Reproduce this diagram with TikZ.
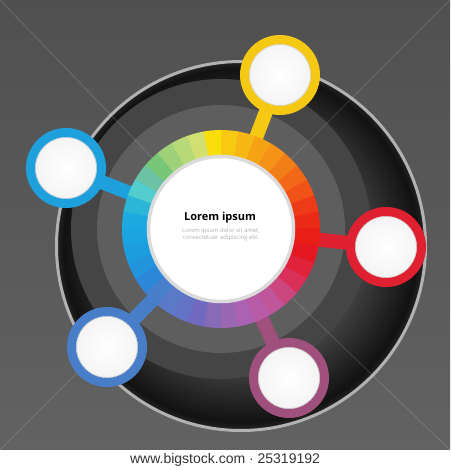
\documentclass[tikz,border=0pt]{standalone}
\usepackage{fontspec}
\setmainfont{Open Sans}
\newfontfamily\creditfont{Liberation Sans}
\definecolor{ringyellow}{RGB}{245,200,20}
\definecolor{ringcyan}{RGB}{30,160,220}
\definecolor{ringred}{RGB}{222,32,48}
\definecolor{ringblue}{RGB}{72,126,200}
\definecolor{ringpurple}{RGB}{160,80,125}
\definecolor{bgtop}{RGB}{80,80,80}
\definecolor{bgbottom}{RGB}{98,98,98}
\tikzset{
  bubble/.style={circle, draw=#1, line width=9pt, minimum size=71pt, inner sep=0pt,
    inner color=white, outer color=gray!10,
    path picture={\draw[gray!35, line width=0.8pt] (path picture bounding box.center) circle (30.5pt);}},
  spoke/.style={draw=#1, line width=14pt},
  glare/.style={white, opacity=0.13, line width=1pt},
}
\begin{document}
\begin{tikzpicture}[x=1pt,y=-1pt]
  \useasboundingbox (0,0) rectangle (450,470);
  % backdrop
  \shade[top color=bgtop, bottom color=bgbottom] (0,0) rectangle (450,450);
  \fill[white] (0,450) rectangle (450,470);

  \coordinate (c) at (221,229);
  \coordinate (y) at (280,75);
  \coordinate (b) at (66,168);
  \coordinate (r) at (386,247);
  \coordinate (d) at (107,347);
  \coordinate (p) at (289,378);

  % dark disc, in bands
  \foreach \r in {184,182,...,110}{
    \pgfmathsetmacro\g{(\r>178) ? 0.07+(\r-178)/6*0.06 : 0.07+(178-\r)/60*0.2}
    \pgfmathsetmacro\k{100*(1-\g)}
    \fill[black!\k!white] (241,246) circle (\r);
  }
  \fill[black!73!white] (c) circle (150);
  \fill[black!63!white] (c) circle (124);
  \draw[line width=3pt, gray!60] (241,246) circle (184.5);
  \draw[glare] (0,0) -- (c) -- (450,0);
  \draw[glare] (0,450) -- (c) -- (450,450);

  \draw[spoke=ringyellow] (c) -- (y);
  \draw[spoke=ringcyan] (c) -- (b);
  \draw[spoke=ringred] (c) -- (r);
  \draw[spoke=ringblue] (c) -- (d);
  \draw[spoke=ringpurple] (c) -- (p);

  % colour wheel, angle/hue/sat/bright
  \foreach \a/\h/\s/\v in {0/5/.9/.92, 10/10/.9/.93, 20/16/.9/.94, 30/22/.9/.95, 40/28/.9/.95,
      50/33/.9/.96, 60/38/.92/.96, 70/43/.92/.97, 80/48/.93/.97, 90/53/.95/.98,
      100/68/.5/.88, 110/80/.45/.85, 120/95/.42/.82, 130/120/.4/.78, 140/160/.45/.76,
      150/180/.6/.8, 160/192/.8/.85, 170/197/.88/.88, 180/198/.88/.88, 190/200/.88/.87,
      200/203/.85/.86, 210/208/.8/.85, 220/215/.65/.8, 230/222/.55/.78, 240/230/.5/.78,
      250/245/.45/.75, 260/262/.42/.72, 270/280/.42/.7, 280/295/.45/.7, 290/310/.5/.72,
      300/322/.55/.75, 310/335/.65/.8, 320/345/.78/.85, 330/352/.85/.88, 340/357/.9/.9,
      350/2/.9/.91}{
    \definecolor{seg}{Hsb}{\h,\s,\v}
    \fill[seg] (c) -- ++(-\a:99) arc[start angle=-\a, end angle=-\a-10.5, radius=99] -- cycle;
  }

  \node[circle, fill=white, draw=gray!28, line width=3.5pt, minimum size=145pt, inner sep=0pt] (hub) at (c) {};
  \node[font=\bfseries\fontsize{11}{13}\selectfont] (title) at (220,218) {Lorem ipsum};
  \node[font=\fontsize{5.9}{7}\selectfont, text=gray!60, align=center] (body) at (221,234) {Lorem ipsum dolor sit amet,\\consectetuer adipiscing elit.};

  \node[bubble=ringyellow] (yel) at (y) {};
  \node[bubble=ringcyan] (cya) at (b) {};
  \node[bubble=ringred] (red) at (r) {};
  \node[bubble=ringblue] (blu) at (d) {};
  \node[bubble=ringpurple] (pur) at (p) {};

  \node[font=\creditfont\fontsize{14}{16}\selectfont, text=black!80] (credit) at (225,460) {www.bigstock.com · 25319192};
\end{tikzpicture}
\end{document}
